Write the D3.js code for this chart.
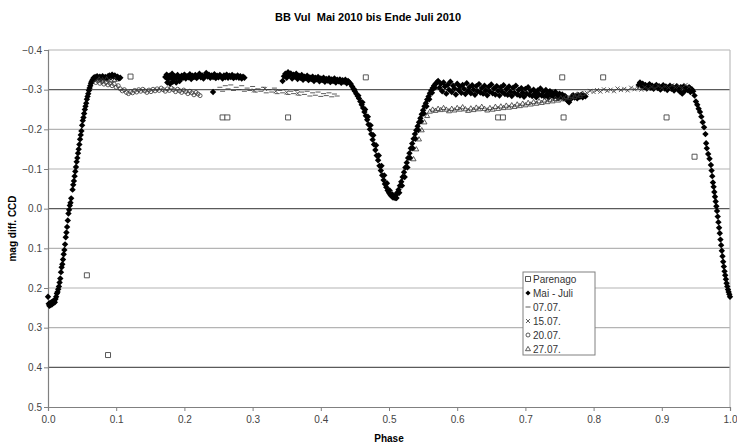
<!DOCTYPE html>
<html>
<head>
<meta charset="utf-8">
<script src="https://cdn.jsdelivr.net/npm/d3@7"></script>
<style>
  body { margin: 0; background: #fff; }
  svg { display: block; font-family: Arial, "Liberation Sans", sans-serif; }
  .title { white-space: pre; }
</style>
</head>
<body>
<div id="chart"></div>
<script>
const WIDTH = 737;
const HEIGHT = 447;
const MARGIN = { top: 50, right: 7, bottom: 40, left: 48 };

// --------------- Data ---------------
const yTicks = [-0.4, -0.3, -0.2, -0.1, 0.0, 0.1, 0.2, 0.3, 0.4, 0.5];
const xTicks = [0.0, 0.1, 0.2, 0.3, 0.4, 0.5, 0.6, 0.7, 0.8, 0.9, 1.0];
const darkGrid = [-0.3, 0.0, 0.4];

// [phase, mag diff]
const parenago = [
  [0.057, 0.168], [0.088, 0.369], [0.121, -0.333], [0.256, -0.230], [0.263, -0.230],
  [0.352, -0.230], [0.466, -0.331], [0.660, -0.230], [0.667, -0.230], [0.754, -0.331],
  [0.756, -0.230], [0.814, -0.331], [0.907, -0.230], [0.948, -0.131]
];

const maiJuli = [
  [0.000, 0.222], [0.001, 0.240], [0.002, 0.245], [0.003, 0.238], [0.004, 0.243], [0.005, 0.236],
  [0.006, 0.241], [0.007, 0.234], [0.008, 0.238], [0.009, 0.232], [0.010, 0.236], [0.011, 0.228],
  [0.012, 0.222], [0.013, 0.214], [0.014, 0.210], [0.015, 0.203], [0.016, 0.196], [0.017, 0.186],
  [0.018, 0.176], [0.019, 0.160], [0.020, 0.148], [0.021, 0.140], [0.022, 0.128], [0.023, 0.115],
  [0.024, 0.104], [0.025, 0.090], [0.026, 0.072], [0.027, 0.060], [0.028, 0.046], [0.029, 0.030],
  [0.030, 0.012], [0.031, 0.003], [0.032, -0.008], [0.033, -0.015], [0.034, -0.026], [0.036, -0.048],
  [0.037, -0.060], [0.038, -0.070], [0.039, -0.082], [0.040, -0.094], [0.041, -0.105], [0.042, -0.118],
  [0.043, -0.128], [0.044, -0.140], [0.045, -0.150], [0.046, -0.162], [0.047, -0.175], [0.048, -0.186],
  [0.049, -0.196], [0.050, -0.210], [0.051, -0.222], [0.052, -0.230], [0.053, -0.240], [0.054, -0.250],
  [0.055, -0.258], [0.056, -0.266], [0.057, -0.276], [0.058, -0.283], [0.059, -0.290], [0.060, -0.298],
  [0.061, -0.304], [0.062, -0.310], [0.063, -0.316], [0.064, -0.320], [0.065, -0.324], [0.066, -0.326],
  [0.067, -0.330], [0.068, -0.326], [0.069, -0.332], [0.070, -0.328], [0.072, -0.334], [0.074, -0.330],
  [0.076, -0.333], [0.078, -0.328], [0.080, -0.334], [0.082, -0.330], [0.084, -0.332], [0.086, -0.328],
  [0.088, -0.334], [0.090, -0.336], [0.092, -0.331], [0.094, -0.338], [0.096, -0.333], [0.098, -0.336],
  [0.100, -0.330], [0.102, -0.333], [0.104, -0.328], [0.106, -0.330],
  [0.172, -0.332], [0.174, -0.338], [0.175, -0.318], [0.176, -0.326], [0.178, -0.335], [0.179, -0.315],
  [0.180, -0.330], [0.182, -0.340], [0.183, -0.320], [0.184, -0.327], [0.186, -0.334], [0.188, -0.329],
  [0.188, -0.318], [0.190, -0.337], [0.192, -0.331], [0.193, -0.322], [0.194, -0.326], [0.196, -0.335],
  [0.198, -0.330], [0.200, -0.338], [0.202, -0.328], [0.204, -0.334], [0.206, -0.331], [0.208, -0.339],
  [0.210, -0.327], [0.212, -0.335], [0.214, -0.332], [0.216, -0.337], [0.218, -0.329], [0.220, -0.334],
  [0.222, -0.340], [0.224, -0.331], [0.226, -0.336], [0.228, -0.328], [0.230, -0.335], [0.232, -0.342],
  [0.234, -0.333], [0.236, -0.338], [0.238, -0.330], [0.240, -0.336], [0.242, -0.332], [0.242, -0.294],
  [0.244, -0.339], [0.246, -0.329], [0.248, -0.335], [0.250, -0.331], [0.252, -0.337], [0.254, -0.333],
  [0.256, -0.328], [0.258, -0.336], [0.260, -0.331], [0.262, -0.338], [0.264, -0.330], [0.266, -0.335],
  [0.268, -0.332], [0.270, -0.337], [0.272, -0.329], [0.274, -0.334], [0.276, -0.331], [0.278, -0.336],
  [0.280, -0.330], [0.282, -0.334], [0.284, -0.328], [0.286, -0.333], [0.288, -0.330],
  [0.344, -0.322], [0.346, -0.334], [0.348, -0.340], [0.350, -0.330], [0.352, -0.344], [0.354, -0.336],
  [0.356, -0.341], [0.358, -0.328], [0.360, -0.338], [0.362, -0.333], [0.364, -0.340], [0.366, -0.327],
  [0.368, -0.335], [0.370, -0.330], [0.372, -0.337], [0.374, -0.325], [0.376, -0.333], [0.378, -0.329],
  [0.380, -0.335], [0.382, -0.324], [0.384, -0.331], [0.386, -0.327], [0.388, -0.333], [0.390, -0.322],
  [0.392, -0.330], [0.394, -0.326], [0.396, -0.332], [0.398, -0.321], [0.400, -0.328], [0.402, -0.324],
  [0.404, -0.330], [0.406, -0.320], [0.408, -0.327], [0.410, -0.323], [0.412, -0.329], [0.414, -0.319],
  [0.416, -0.326], [0.418, -0.322], [0.420, -0.328], [0.422, -0.318], [0.424, -0.325], [0.426, -0.321],
  [0.428, -0.326], [0.430, -0.317], [0.432, -0.324], [0.434, -0.320], [0.436, -0.325], [0.438, -0.316],
  [0.440, -0.322], [0.442, -0.318], [0.444, -0.314],
  [0.446, -0.308], [0.448, -0.302], [0.449, -0.300], [0.450, -0.296], [0.452, -0.290], [0.454, -0.284],
  [0.455, -0.285], [0.456, -0.278], [0.458, -0.270], [0.460, -0.262], [0.461, -0.268], [0.462, -0.254],
  [0.464, -0.244], [0.465, -0.250], [0.466, -0.234], [0.468, -0.224], [0.469, -0.232], [0.470, -0.212],
  [0.472, -0.200], [0.473, -0.210], [0.474, -0.188], [0.476, -0.174], [0.477, -0.185], [0.478, -0.162],
  [0.480, -0.148], [0.481, -0.160], [0.482, -0.134], [0.484, -0.122], [0.485, -0.134], [0.486, -0.108],
  [0.488, -0.096], [0.489, -0.108], [0.490, -0.084], [0.492, -0.072], [0.493, -0.084], [0.494, -0.062],
  [0.496, -0.054], [0.497, -0.064], [0.498, -0.046], [0.500, -0.040], [0.501, -0.046], [0.502, -0.035],
  [0.504, -0.031], [0.505, -0.036], [0.506, -0.028], [0.508, -0.030], [0.509, -0.027], [0.510, -0.034],
  [0.511, -0.027], [0.512, -0.040], [0.514, -0.048], [0.515, -0.040], [0.516, -0.058], [0.518, -0.068],
  [0.519, -0.058], [0.520, -0.080], [0.522, -0.092], [0.523, -0.080], [0.524, -0.104], [0.526, -0.116],
  [0.527, -0.104], [0.528, -0.128], [0.530, -0.140], [0.531, -0.128], [0.532, -0.152], [0.534, -0.164],
  [0.535, -0.152], [0.536, -0.176], [0.538, -0.188], [0.539, -0.176], [0.540, -0.198], [0.542, -0.208],
  [0.543, -0.198], [0.544, -0.218], [0.546, -0.228], [0.547, -0.220], [0.548, -0.238], [0.550, -0.248],
  [0.551, -0.240], [0.552, -0.258], [0.554, -0.266], [0.555, -0.258], [0.556, -0.275], [0.558, -0.283],
  [0.559, -0.276], [0.560, -0.291], [0.562, -0.298], [0.563, -0.292], [0.564, -0.304], [0.566, -0.310],
  [0.567, -0.305], [0.568, -0.314], [0.570, -0.318],
  [0.572, -0.322], [0.574, -0.305], [0.576, -0.315], [0.578, -0.296], [0.580, -0.318], [0.582, -0.308],
  [0.584, -0.290], [0.586, -0.312], [0.588, -0.300], [0.590, -0.320], [0.592, -0.294], [0.594, -0.310],
  [0.596, -0.303], [0.598, -0.288], [0.600, -0.315], [0.602, -0.299], [0.604, -0.308], [0.606, -0.292],
  [0.608, -0.312], [0.610, -0.302], [0.612, -0.289], [0.614, -0.316], [0.616, -0.297], [0.618, -0.306],
  [0.620, -0.291], [0.622, -0.311], [0.624, -0.300], [0.626, -0.287], [0.628, -0.309], [0.630, -0.296],
  [0.632, -0.314], [0.634, -0.293], [0.636, -0.304], [0.638, -0.290], [0.640, -0.310], [0.642, -0.298],
  [0.644, -0.286], [0.646, -0.307], [0.648, -0.295], [0.650, -0.313], [0.652, -0.291], [0.654, -0.303],
  [0.656, -0.288], [0.658, -0.309], [0.660, -0.297], [0.662, -0.285], [0.664, -0.306], [0.666, -0.294],
  [0.668, -0.311], [0.670, -0.289], [0.672, -0.301], [0.674, -0.287], [0.676, -0.308], [0.678, -0.295],
  [0.680, -0.284], [0.682, -0.305], [0.684, -0.292], [0.686, -0.310], [0.688, -0.288], [0.690, -0.299],
  [0.692, -0.285], [0.694, -0.304], [0.696, -0.293], [0.698, -0.282], [0.700, -0.302], [0.702, -0.290],
  [0.704, -0.306], [0.706, -0.287], [0.708, -0.297], [0.710, -0.284], [0.712, -0.300], [0.714, -0.291],
  [0.716, -0.281], [0.718, -0.298], [0.720, -0.288], [0.722, -0.303], [0.724, -0.285], [0.726, -0.295],
  [0.728, -0.283], [0.730, -0.299], [0.732, -0.289], [0.734, -0.280], [0.736, -0.296], [0.738, -0.286],
  [0.740, -0.292], [0.742, -0.282], [0.744, -0.294], [0.746, -0.286], [0.748, -0.279], [0.750, -0.290],
  [0.752, -0.283], [0.754, -0.288], [0.756, -0.279], [0.758, -0.284], [0.760, -0.276], [0.762, -0.272],
  [0.764, -0.268], [0.766, -0.275], [0.768, -0.281], [0.770, -0.286], [0.772, -0.280], [0.774, -0.284],
  [0.776, -0.278], [0.778, -0.286], [0.780, -0.282], [0.782, -0.287], [0.784, -0.281], [0.786, -0.285],
  [0.788, -0.283],
  [0.866, -0.312], [0.868, -0.318], [0.870, -0.310], [0.872, -0.315], [0.874, -0.306], [0.876, -0.312],
  [0.878, -0.303], [0.880, -0.309], [0.882, -0.314], [0.884, -0.305], [0.886, -0.310], [0.888, -0.302],
  [0.890, -0.308], [0.892, -0.312], [0.894, -0.304], [0.896, -0.309], [0.898, -0.300], [0.900, -0.306],
  [0.902, -0.311], [0.904, -0.303], [0.906, -0.308], [0.908, -0.299], [0.910, -0.305], [0.912, -0.310],
  [0.914, -0.302], [0.916, -0.307], [0.918, -0.298], [0.920, -0.304], [0.922, -0.309], [0.924, -0.300],
  [0.926, -0.296], [0.928, -0.306], [0.930, -0.290], [0.932, -0.308], [0.934, -0.297], [0.936, -0.303],
  [0.938, -0.299], [0.940, -0.306], [0.942, -0.294], [0.944, -0.301], [0.946, -0.296], [0.948, -0.285],
  [0.950, -0.270], [0.952, -0.262], [0.954, -0.252], [0.956, -0.244], [0.958, -0.232], [0.960, -0.218],
  [0.962, -0.205], [0.964, -0.188], [0.965, -0.165], [0.966, -0.152], [0.968, -0.138], [0.970, -0.126],
  [0.972, -0.110], [0.973, -0.096], [0.974, -0.082], [0.975, -0.066], [0.976, -0.055], [0.977, -0.042],
  [0.978, -0.030], [0.979, -0.018], [0.980, -0.006], [0.981, 0.006], [0.982, 0.020], [0.983, 0.034],
  [0.984, 0.048], [0.985, 0.062], [0.986, 0.078], [0.987, 0.092], [0.988, 0.106], [0.989, 0.120],
  [0.990, 0.134], [0.991, 0.146], [0.992, 0.158], [0.993, 0.168], [0.994, 0.178], [0.995, 0.188],
  [0.996, 0.196], [0.997, 0.204], [0.998, 0.210], [0.999, 0.216], [1.000, 0.222]
];

const d0707 = [
  [0.248, -0.300], [0.252, -0.306], [0.256, -0.296], [0.260, -0.310], [0.264, -0.302], [0.268, -0.312],
  [0.272, -0.298], [0.276, -0.306], [0.280, -0.300], [0.284, -0.310], [0.288, -0.296], [0.292, -0.304],
  [0.296, -0.298], [0.300, -0.308], [0.304, -0.294], [0.308, -0.302], [0.312, -0.296], [0.316, -0.306],
  [0.320, -0.292], [0.324, -0.300], [0.328, -0.294], [0.332, -0.304], [0.336, -0.290], [0.340, -0.298],
  [0.344, -0.292], [0.348, -0.300], [0.352, -0.288], [0.356, -0.296], [0.360, -0.290], [0.364, -0.298],
  [0.368, -0.286], [0.372, -0.294], [0.376, -0.288], [0.380, -0.296], [0.384, -0.284], [0.388, -0.292],
  [0.392, -0.286], [0.396, -0.294], [0.400, -0.283], [0.404, -0.290], [0.408, -0.285], [0.412, -0.292],
  [0.416, -0.282], [0.420, -0.289], [0.424, -0.284]
];

const d1507 = [
  [0.302, -0.298], [0.318, -0.302], [0.334, -0.296], [0.350, -0.293], [0.366, -0.291],
  [0.790, -0.292], [0.795, -0.297], [0.800, -0.294], [0.805, -0.299], [0.810, -0.295], [0.815, -0.301],
  [0.820, -0.297], [0.825, -0.300], [0.830, -0.296], [0.835, -0.303], [0.840, -0.299], [0.845, -0.302],
  [0.850, -0.298], [0.855, -0.305], [0.860, -0.301], [0.865, -0.304], [0.870, -0.300], [0.875, -0.306],
  [0.880, -0.302], [0.885, -0.307], [0.890, -0.303], [0.895, -0.309], [0.900, -0.304], [0.905, -0.308],
  [0.910, -0.305], [0.915, -0.311], [0.920, -0.306], [0.925, -0.309], [0.930, -0.305], [0.935, -0.312],
  [0.940, -0.307]
];

const d2007 = [
  [0.070, -0.318], [0.073, -0.322], [0.076, -0.316], [0.079, -0.320], [0.082, -0.314], [0.085, -0.318],
  [0.088, -0.312], [0.091, -0.316], [0.094, -0.310], [0.097, -0.314], [0.100, -0.306], [0.103, -0.310],
  [0.106, -0.302], [0.109, -0.297], [0.112, -0.300], [0.115, -0.293], [0.118, -0.290], [0.121, -0.295],
  [0.124, -0.292], [0.127, -0.298], [0.130, -0.294], [0.133, -0.300], [0.136, -0.296], [0.139, -0.301],
  [0.142, -0.297], [0.145, -0.293], [0.148, -0.299], [0.151, -0.295], [0.154, -0.301], [0.157, -0.297],
  [0.160, -0.302], [0.163, -0.298], [0.166, -0.304], [0.169, -0.300], [0.172, -0.296], [0.175, -0.302],
  [0.178, -0.298], [0.181, -0.304], [0.184, -0.300], [0.187, -0.295], [0.190, -0.301], [0.193, -0.297],
  [0.196, -0.293], [0.199, -0.299], [0.202, -0.295], [0.205, -0.290], [0.208, -0.296], [0.211, -0.292],
  [0.214, -0.287], [0.217, -0.293], [0.220, -0.289], [0.223, -0.285]
];

const d2707 = [
  [0.075, -0.326], [0.080, -0.324], [0.086, -0.327], [0.092, -0.323], [0.098, -0.325],
  [0.536, -0.125], [0.540, -0.150], [0.544, -0.175], [0.548, -0.198], [0.552, -0.218], [0.556, -0.234],
  [0.560, -0.245], [0.564, -0.250], [0.568, -0.247], [0.572, -0.252], [0.576, -0.249], [0.580, -0.254],
  [0.584, -0.250], [0.588, -0.246], [0.592, -0.252], [0.596, -0.248], [0.600, -0.254], [0.604, -0.250],
  [0.608, -0.256], [0.612, -0.251], [0.616, -0.247], [0.620, -0.253], [0.624, -0.249], [0.628, -0.255],
  [0.632, -0.251], [0.636, -0.257], [0.640, -0.252], [0.644, -0.248], [0.648, -0.254], [0.652, -0.250],
  [0.656, -0.257], [0.660, -0.252], [0.664, -0.258], [0.668, -0.254], [0.672, -0.260], [0.676, -0.255],
  [0.680, -0.261], [0.684, -0.257], [0.688, -0.263], [0.692, -0.259], [0.696, -0.265], [0.700, -0.261],
  [0.704, -0.267], [0.708, -0.263], [0.712, -0.269], [0.716, -0.265], [0.720, -0.271], [0.724, -0.267],
  [0.728, -0.273], [0.732, -0.269], [0.736, -0.275], [0.740, -0.271], [0.744, -0.277], [0.748, -0.273],
  [0.752, -0.279], [0.756, -0.276], [0.760, -0.282], [0.764, -0.279], [0.768, -0.285], [0.772, -0.282],
  [0.776, -0.288], [0.780, -0.285], [0.784, -0.290]
];

const legendNames = ["Parenago", "Mai - Juli", "07.07.", "15.07.", "20.07.", "27.07."];
const legendMarkers = ["square", "diamond", "dash", "cross", "circle", "triangle"];
const seriesData = [parenago, maiJuli, d0707, d1507, d2007, d2707];

// --------------- Markers ---------------
const MARKER_PATH = {
  square: "M-2.5,-2.5h5v5h-5z",
  diamond: "M0,-3.2L3.2,0L0,3.2L-3.2,0Z",
  dash: "M-2.5,0h5",
  cross: "M-2,-2L2,2M2,-2L-2,2",
  circle: "M2,0A2,2 0 1,1 -2,0A2,2 0 1,1 2,0Z",
  triangle: "M0,-2.6L2.5,1.7L-2.5,1.7Z"
};

function markerStyle(sel, type) {
  if (type === "diamond") {
    sel.attr("fill", "#000").attr("stroke", "none");
  } else if (type === "square") {
    sel.attr("fill", "#fff").attr("stroke", "#444").attr("stroke-width", 0.9);
  } else {
    sel.attr("fill", "none").attr("stroke", "#333").attr("stroke-width", 0.8);
  }
}

// --------------- Setup ---------------
const svg = d3.select("#chart")
  .append("svg")
  .attr("width", WIDTH)
  .attr("height", HEIGHT);

const x = d3.scaleLinear().domain([0, 1]).range([MARGIN.left, WIDTH - MARGIN.right]);
const y = d3.scaleLinear().domain([-0.4, 0.5]).range([MARGIN.top, HEIGHT - MARGIN.bottom]);

// Gridlines and frame
svg.append("g")
  .selectAll("line")
  .data(yTicks.slice(0, -1))
  .enter()
  .append("line")
  .attr("x1", x(0))
  .attr("x2", x(1))
  .attr("y1", d => y(d))
  .attr("y2", d => y(d))
  .attr("stroke", d => darkGrid.some(v => Math.abs(v - d) < 1e-9) ? "#5a5a5a" : "#b4b4b4")
  .attr("stroke-width", 1.2);

svg.append("line")
  .attr("x1", x(1)).attr("x2", x(1))
  .attr("y1", y(-0.4)).attr("y2", y(0.5))
  .attr("stroke", "#bdbdbd")
  .attr("stroke-width", 1.2);

// Axes
const yAxis = svg.append("g")
  .attr("transform", `translate(${x(0)},0)`)
  .call(d3.axisLeft(y).tickValues(yTicks).tickSize(4).tickFormat(d3.format(".1f")));

const xAxis = svg.append("g")
  .attr("transform", `translate(0,${y(0.5)})`)
  .call(d3.axisBottom(x).tickValues(xTicks).tickSize(4).tickFormat(d3.format(".1f")));

[yAxis, xAxis].forEach(ax => {
  ax.select(".domain").attr("stroke", "#808080").attr("stroke-width", 1.2);
  ax.selectAll(".tick line").attr("stroke", "#808080");
  ax.selectAll("text")
    .attr("fill", "#444")
    .attr("font-size", 10)
    .attr("font-family", "Arial, 'Liberation Sans', sans-serif");
});
yAxis.selectAll("text").attr("x", -6);
xAxis.selectAll("text").attr("y", 9);

// Data points
const plot = svg.append("g");
seriesData.forEach((data, i) => {
  const type = legendMarkers[i];
  plot.append("g")
    .selectAll("path")
    .data(data)
    .enter()
    .append("path")
    .attr("d", MARKER_PATH[type])
    .attr("transform", d => `translate(${x(d[0])},${y(d[1])})`)
    .call(markerStyle, type);
});

// Titles
svg.append("text")
  .attr("class", "title")
  .attr("x", 368)
  .attr("y", 21)
  .attr("text-anchor", "middle")
  .attr("font-size", 11)
  .attr("font-weight", "bold")
  .text("BB Vul  Mai 2010 bis Ende Juli 2010");

svg.append("text")
  .attr("x", 389)
  .attr("y", 442)
  .attr("text-anchor", "middle")
  .attr("font-size", 10)
  .attr("font-weight", "bold")
  .text("Phase");

svg.append("text")
  .attr("transform", `translate(16,${y(0.05)}) rotate(-90)`)
  .attr("text-anchor", "middle")
  .attr("font-size", 10)
  .attr("font-weight", "bold")
  .text("mag diff. CCD");

// Legend
const legend = svg.append("g").attr("transform", "translate(523,272)");
legend.append("rect")
  .attr("width", 72)
  .attr("height", 83)
  .attr("fill", "#fff")
  .attr("stroke", "#808080");

const item = legend.selectAll("g.item")
  .data(legendNames)
  .enter()
  .append("g")
  .attr("class", "item")
  .attr("transform", (d, i) => `translate(0,${7 + i * 14})`);

item.append("path")
  .attr("d", (d, i) => legendMarkers[i] === "diamond" ? "M0,-2.6L2.6,0L0,2.6L-2.6,0Z" : MARKER_PATH[legendMarkers[i]])
  .attr("transform", "translate(5,0)")
  .each(function (d, i) { d3.select(this).call(markerStyle, legendMarkers[i]); });

item.append("text")
  .attr("x", 10)
  .attr("y", 3.5)
  .attr("font-size", 10)
  .attr("fill", "#333")
  .text(d => d);
</script>
</body>
</html>
